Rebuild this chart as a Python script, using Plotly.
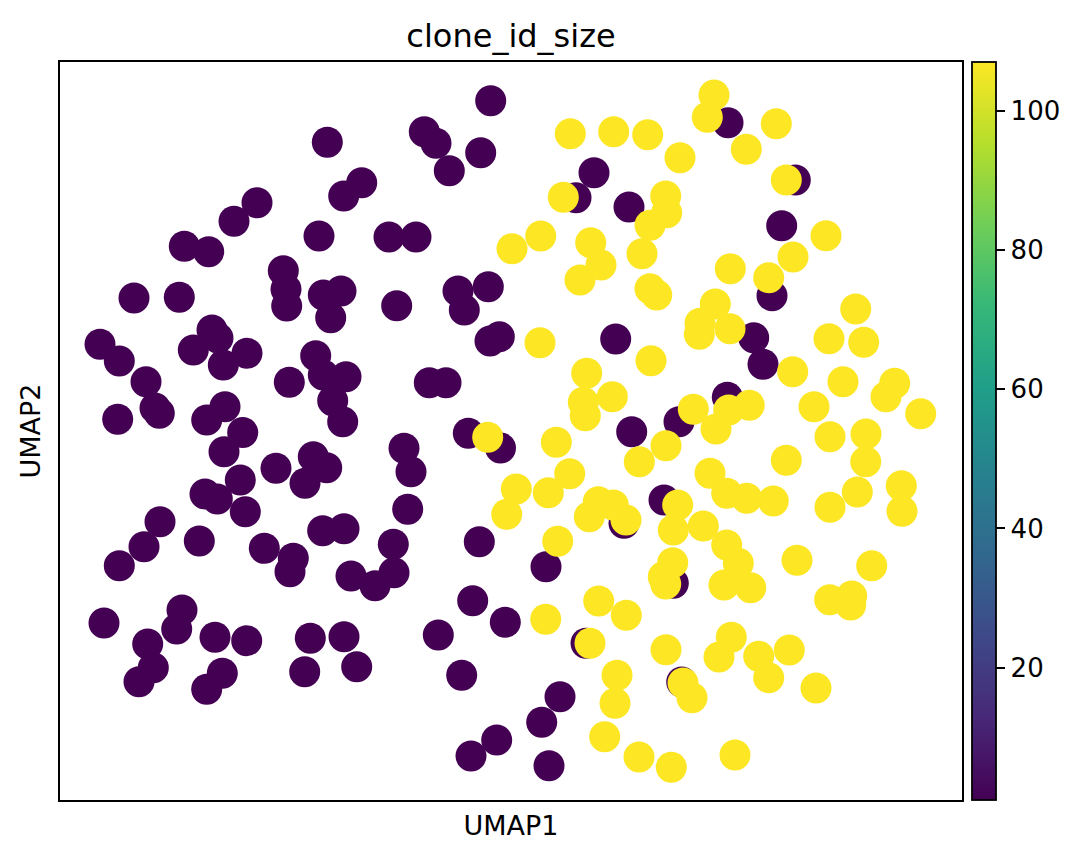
import plotly.graph_objects as go

# Embedding coordinates (UMAP2 axis drawn top-down)
purple_umap1 = [490.7, 327.3, 424.3, 436.0, 480.7, 449.3, 361.7, 343.7, 257.0, 234.0,
                319.0, 389.0, 416.0, 184.3, 208.7, 283.3, 286.0, 286.7, 323.3, 341.0,
                330.7, 396.7, 458.0, 488.3, 464.3, 134.0, 179.3, 100.0, 119.3, 146.0,
                212.0, 218.0, 193.3, 223.3, 247.0, 315.7, 323.3, 346.0, 332.7, 342.7,
                289.3, 429.3, 446.0, 490.0, 499.3, 117.7, 155.0, 159.3, 225.0, 206.7,
                242.7, 468.3, 500.5, 224.0, 240.3, 276.0, 313.3, 326.7, 305.0, 404.0,
                411.0, 205.0, 217.3, 245.3, 407.7, 479.3, 160.0, 144.0, 119.3, 199.3,
                264.3, 293.3, 290.0, 322.7, 344.0, 393.3, 394.0, 351.0, 375.0, 472.7,
                505.3, 438.3, 461.7, 104.0, 182.0, 176.7, 147.7, 153.3, 139.0, 215.0,
                246.7, 222.3, 206.7, 310.3, 344.0, 304.7, 356.7, 496.7, 471.0,
                728.0, 594.0, 576.0, 629.0, 795.3, 781.7, 772.0, 753.7, 763.0, 615.7,
                727.3, 679.0, 631.7, 624.0, 664.0, 546.0, 673.3, 586.0, 681.7, 560.0,
                541.7, 549.0]
purple_umap2 = [100.7, 142.3, 131.7, 143.3, 152.7, 170.7, 182.7, 196.0, 202.7, 221.3,
                236.0, 237.0, 237.0, 246.3, 251.7, 270.7, 289.3, 306.0, 295.0, 291.0,
                317.7, 305.7, 291.0, 286.7, 310.0, 298.0, 297.3, 344.3, 361.0, 381.7,
                330.0, 338.0, 350.0, 365.0, 353.3, 355.7, 375.0, 376.7, 400.7, 421.7,
                382.3, 382.7, 382.7, 341.0, 336.7, 419.3, 408.0, 413.3, 406.7, 420.0,
                432.5, 433.3, 448.0, 451.7, 480.0, 468.3, 456.7, 467.7, 483.3, 448.3,
                471.7, 494.0, 499.0, 511.7, 509.3, 541.7, 521.7, 546.7, 565.7, 541.0,
                548.3, 558.3, 571.7, 530.7, 528.7, 544.3, 572.7, 576.0, 585.7, 600.7,
                622.3, 635.0, 675.3, 623.0, 610.0, 629.0, 644.0, 667.7, 681.7, 637.3,
                640.7, 673.3, 689.3, 638.3, 636.7, 671.7, 666.7, 740.0, 756.0,
                122.7, 172.7, 197.7, 207.0, 180.0, 225.7, 295.7, 337.7, 364.3, 339.0,
                397.3, 421.7, 431.7, 523.3, 500.0, 566.7, 583.3, 643.3, 682.0, 696.7,
                722.3, 765.7]

yellow_umap1 = [714.0, 707.3, 776.3, 746.3, 570.3, 613.7, 647.7, 680.0, 563.3, 665.7,
                666.7, 650.0, 642.0, 786.3, 826.0, 793.0, 512.0, 540.7, 590.7, 601.0,
                580.0, 730.3, 768.7, 650.0, 656.7, 855.7, 715.3, 700.0, 699.3, 730.0,
                829.0, 863.7, 792.7, 843.0, 894.7, 886.0, 920.7, 814.0, 830.0, 866.0,
                865.7, 540.0, 651.0, 586.7, 612.3, 583.3, 585.3, 728.7, 749.3, 693.3,
                716.0, 556.3, 487.7, 666.0, 639.3, 786.3, 569.7, 516.3, 548.3, 506.7,
                710.0, 726.7, 746.7, 773.3, 830.0, 857.3, 901.3, 902.0, 598.3, 613.3,
                589.3, 626.0, 677.7, 673.3, 703.3, 726.7, 738.3, 724.0, 750.7, 557.7,
                797.0, 871.7, 672.7, 663.3, 665.7, 598.7, 626.3, 545.7, 829.7, 851.7,
                850.7, 590.0, 666.0, 731.3, 719.0, 758.7, 789.3, 768.7, 816.0, 617.0,
                615.0, 683.0, 692.0, 604.7, 639.0, 671.3, 735.0]
yellow_umap2 = [95.0, 117.3, 123.7, 149.3, 133.7, 131.7, 134.7, 157.7, 197.3, 196.0,
                212.7, 225.3, 253.7, 180.0, 235.7, 257.0, 248.7, 236.0, 242.7, 265.0,
                280.0, 268.7, 277.7, 288.7, 295.0, 309.0, 304.0, 323.3, 334.3, 328.7,
                338.7, 342.3, 371.7, 381.7, 383.3, 396.7, 413.7, 406.7, 436.7, 434.0,
                461.7, 342.7, 360.7, 373.3, 396.7, 402.3, 415.7, 410.0, 405.3, 409.3,
                429.0, 442.3, 437.3, 445.7, 461.7, 460.3, 473.7, 489.0, 492.7, 514.3,
                473.3, 493.3, 498.3, 501.0, 507.3, 492.0, 485.7, 511.3, 501.7, 505.0,
                516.7, 520.0, 505.0, 530.0, 526.0, 545.0, 563.3, 585.0, 587.7, 541.3,
                560.3, 565.7, 562.7, 576.7, 584.0, 601.0, 615.3, 619.3, 599.7, 596.0,
                605.0, 643.3, 649.7, 637.3, 657.0, 656.3, 650.0, 677.7, 688.0, 675.3,
                703.3, 683.0, 697.7, 736.7, 757.0, 767.3, 755.0]

purple_value = 1
yellow_value = 107
colorbar_ticks = [20, 40, 60, 80, 100]

x_vals = purple_umap1 + yellow_umap1
y_vals = purple_umap2 + yellow_umap2
c_vals = [purple_value] * len(purple_umap1) + [yellow_value] * len(yellow_umap1)

FONT = "DejaVu Sans"

fig = go.Figure()
fig.add_trace(go.Scatter(
    x=x_vals, y=y_vals, mode="markers",
    marker=dict(
        size=31, color=c_vals, colorscale="Viridis", cmin=1, cmax=107,
        line=dict(width=0),
        colorbar=dict(
            x=1.0111, xanchor="left", xpad=0, ypad=0,
            y=0.5, yanchor="middle", len=1, lenmode="fraction",
            thickness=24, thicknessmode="pixels",
            outlinecolor="black", outlinewidth=1.8,
            tickvals=colorbar_ticks, ticks="outside", ticklen=9, tickwidth=1.5,
            tickcolor="black",
            tickfont=dict(size=26, color="black", family=FONT),
        ),
    ),
    showlegend=False, hoverinfo="skip",
))

axis_common = dict(showgrid=False, zeroline=False, showticklabels=False,
                   ticks="", showline=True, linecolor="black", linewidth=2,
                   mirror=True)
fig.update_xaxes(range=[60, 962], title=dict(text="UMAP1", standoff=15,
                 font=dict(size=27, color="black", family=FONT)),
                 **axis_common)
fig.update_yaxes(range=[800, 62], title=dict(text="UMAP2", standoff=10,
                 font=dict(size=27, color="black", family=FONT)),
                 **axis_common)

fig.update_layout(
    width=1088, height=860,
    margin=dict(l=60, r=126, t=62, b=60),
    paper_bgcolor="white", plot_bgcolor="white",
    title=dict(text="clone_id_size", x=0.5, xref="paper", xanchor="center",
               y=1 - 36 / 860, yanchor="middle", yref="container",
               font=dict(size=32, color="black", family=FONT)),
    font=dict(family=FONT, color="black"),
)

fig.write_html("out.html")
